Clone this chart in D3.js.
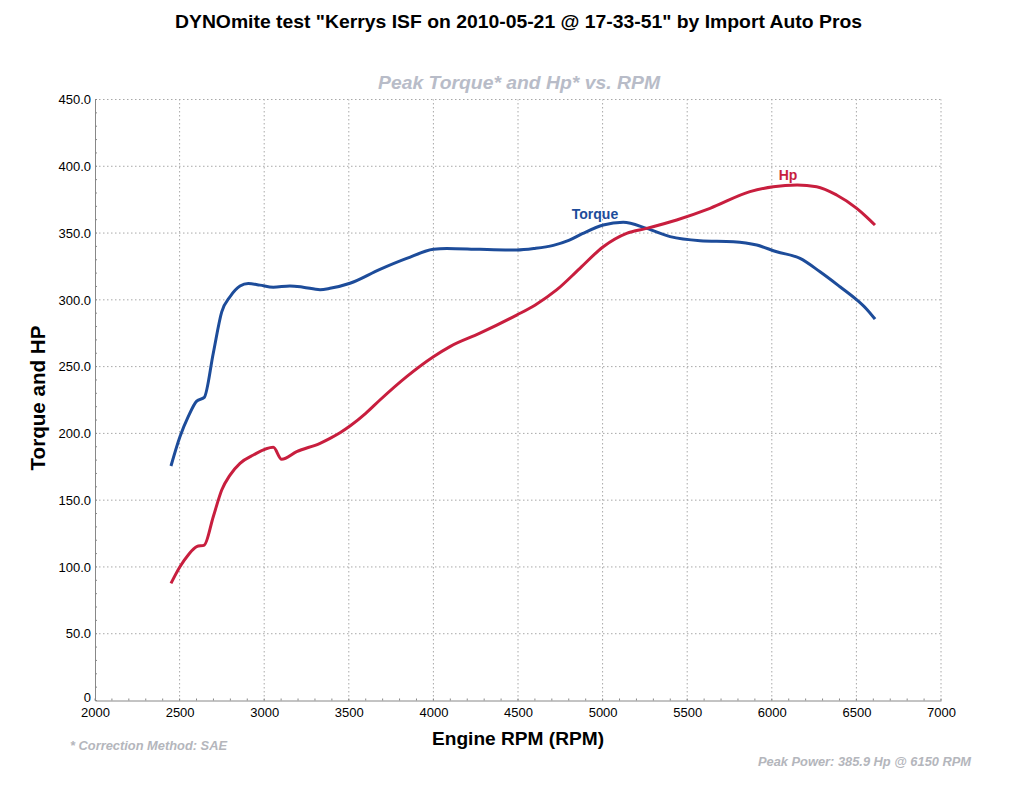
<!DOCTYPE html>
<html><head><meta charset="utf-8">
<script src="https://cdn.jsdelivr.net/npm/d3@7"></script>
<style>body{margin:0;background:#fff;} svg{display:block;font-family:"Liberation Sans",Arial,sans-serif;}</style>
</head><body>
<svg id="c" width="1024" height="788"></svg>
<script>
const xTicks = [2000,2500,3000,3500,4000,4500,5000,5500,6000,6500,7000];
const yTicks = [0,50,100,150,200,250,300,350,400,450];
const torqueRpm = [2449,2502,2551,2601,2646,2699,2749,2798,2857,2906,2975,3054,3152,3230,3330,3389,3507,3684,3842,4000,4079,4275,4492,4600,4709,4800,4880,5004,5122,5260,5399,5576,5773,5911,6029,6167,6285,6403,6502,6561,6610];
const torqueVal = [175.6,197.5,212.5,224.2,227,260,291,302.3,310.3,312.3,311,309.4,310.4,309.5,307.6,308.6,312.4,322.8,331,337.8,338.5,337.8,337.3,338.5,340.8,344.5,349.5,356,358,353.5,347.3,344.3,343.5,341,336,331,321,309.8,300,293,285.6];
const hpRpm = [2449,2502,2551,2601,2646,2699,2749,2798,2857,2936,3054,3103,3192,3330,3389,3448,3507,3600,3684,3842,4000,4098,4275,4492,4600,4728,4866,5004,5142,5260,5438,5635,5871,6009,6150,6265,6383,6502,6561,6610];
const hpVal = [87.7,100.2,109,115.2,116.4,137.6,157.6,168.8,177.6,183.8,189.6,180.6,186.3,192.6,196.3,200.5,205.5,215,225,242.5,257.4,265,275,288.6,296,307.4,323.6,339.8,349.8,353.5,359.8,368.5,381,384.7,385.9,384.7,378.5,368.5,362,356];

const svg = d3.select("#c");
const x = d3.scaleLinear().domain([2000,7000]).range([95,941]);
const y = d3.scaleLinear().domain([0,450]).range([700.5,99.5]);
const FONT = "Liberation Sans, Arial, sans-serif";

// grid
const g = svg.append("g");
g.selectAll("line.vg").data(xTicks.slice(1)).enter().append("line")
  .attr("x1",d=>x(d)).attr("x2",d=>x(d)).attr("y1",y(0)).attr("y2",y(450))
  .attr("stroke","#a8a8a8").attr("stroke-width",1).attr("stroke-dasharray","1.5,2.5");
g.selectAll("line.hg").data(yTicks.slice(1)).enter().append("line")
  .attr("x1",x(2000)).attr("x2",x(7000)).attr("y1",d=>y(d)).attr("y2",d=>y(d))
  .attr("stroke","#a8a8a8").attr("stroke-width",1).attr("stroke-dasharray","1.5,2.5");

// axes
const xAxis = d3.axisBottom(x).tickValues(xTicks).tickSize(0).tickPadding(7).tickFormat(d3.format("d"));
const xa = svg.append("g").attr("transform",`translate(0,${y(0)})`).call(xAxis);
xa.select(".domain").attr("stroke","#888");
xa.selectAll("text").attr("font-size",13).attr("fill","#000").attr("font-family",FONT);
const yAxis = d3.axisLeft(y).tickValues(yTicks).tickSize(0).tickPadding(4).tickFormat(d=>d===0?"0":d3.format(".1f")(d));
const ya = svg.append("g").attr("transform",`translate(${x(2000)},0)`).call(yAxis);
ya.select(".domain").attr("stroke","#888");
ya.selectAll("text").attr("font-size",13).attr("fill","#000").attr("font-family",FONT);
ya.selectAll(".tick").filter(d=>d===0).select("text").attr("dy","0.1em");

// minor ticks
const xMinor = d3.range(2000,7001,100);
svg.append("g").selectAll("line").data(xMinor).enter().append("line")
  .attr("x1",d=>x(d)).attr("x2",d=>x(d)).attr("y1",y(0)-2).attr("y2",y(0))
  .attr("stroke","#888");
const yMinor = d3.range(0,451,10);
svg.append("g").selectAll("line").data(yMinor).enter().append("line")
  .attr("x1",x(2000)).attr("x2",x(2000)+2).attr("y1",d=>y(d)).attr("y2",d=>y(d))
  .attr("stroke","#888");

// lines
const line = d3.line().curve(d3.curveMonotoneX);
const tData = torqueRpm.map((r,i)=>[x(r),y(torqueVal[i])]);
const hData = hpRpm.map((r,i)=>[x(r),y(hpVal[i])]);
svg.append("path").attr("d",line(tData)).attr("fill","none").attr("stroke","#1d4c9a").attr("stroke-width",3).attr("stroke-linejoin","round");
svg.append("path").attr("d",line(hData)).attr("fill","none").attr("stroke","#c81e3e").attr("stroke-width",3).attr("stroke-linejoin","round");

// series labels
svg.append("text").attr("x",x(4955)).attr("y",y(360.5)).attr("text-anchor","middle").attr("font-size",14).attr("font-weight","bold").attr("fill","#1d4c9a").text("Torque");
svg.append("text").attr("x",x(6096)).attr("y",y(389.5)).attr("text-anchor","middle").attr("font-size",14).attr("font-weight","bold").attr("fill","#c81e3e").text("Hp");

// titles
svg.append("text").attr("x",518.5).attr("y",28).attr("text-anchor","middle").attr("font-size",19).attr("font-weight","bold").attr("fill","#000")
  .attr("textLength",687).attr("lengthAdjust","spacingAndGlyphs")
  .text('DYNOmite test "Kerrys ISF on 2010-05-21 @ 17-33-51" by Import Auto Pros');
svg.append("text").attr("x",519).attr("y",89).attr("text-anchor","middle").attr("font-size",19).attr("font-style","italic").attr("font-weight","bold").attr("fill","#b8bcc8")
  .attr("textLength",282).attr("lengthAdjust","spacingAndGlyphs")
  .text("Peak Torque* and Hp* vs. RPM");
svg.append("text").attr("transform","translate(45,398) rotate(-90)").attr("text-anchor","middle").attr("font-size",20).attr("font-weight","bold").attr("fill","#000")
  .attr("textLength",145).attr("lengthAdjust","spacingAndGlyphs")
  .text("Torque and HP");
svg.append("text").attr("x",518).attr("y",745).attr("text-anchor","middle").attr("font-size",19).attr("font-weight","bold").attr("fill","#000")
  .attr("textLength",172).attr("lengthAdjust","spacingAndGlyphs")
  .text("Engine RPM (RPM)");
svg.append("text").attr("x",70).attr("y",750).attr("font-size",13).attr("font-style","italic").attr("font-weight","bold").attr("fill","#b4b6bc")
  .attr("textLength",157).attr("lengthAdjust","spacingAndGlyphs")
  .text("* Correction Method: SAE");
svg.append("text").attr("x",971).attr("y",766).attr("text-anchor","end").attr("font-size",13).attr("font-style","italic").attr("font-weight","bold").attr("fill","#b4b6bc")
  .attr("textLength",213).attr("lengthAdjust","spacingAndGlyphs")
  .text("Peak Power: 385.9 Hp @ 6150 RPM");
</script>
</body></html>
